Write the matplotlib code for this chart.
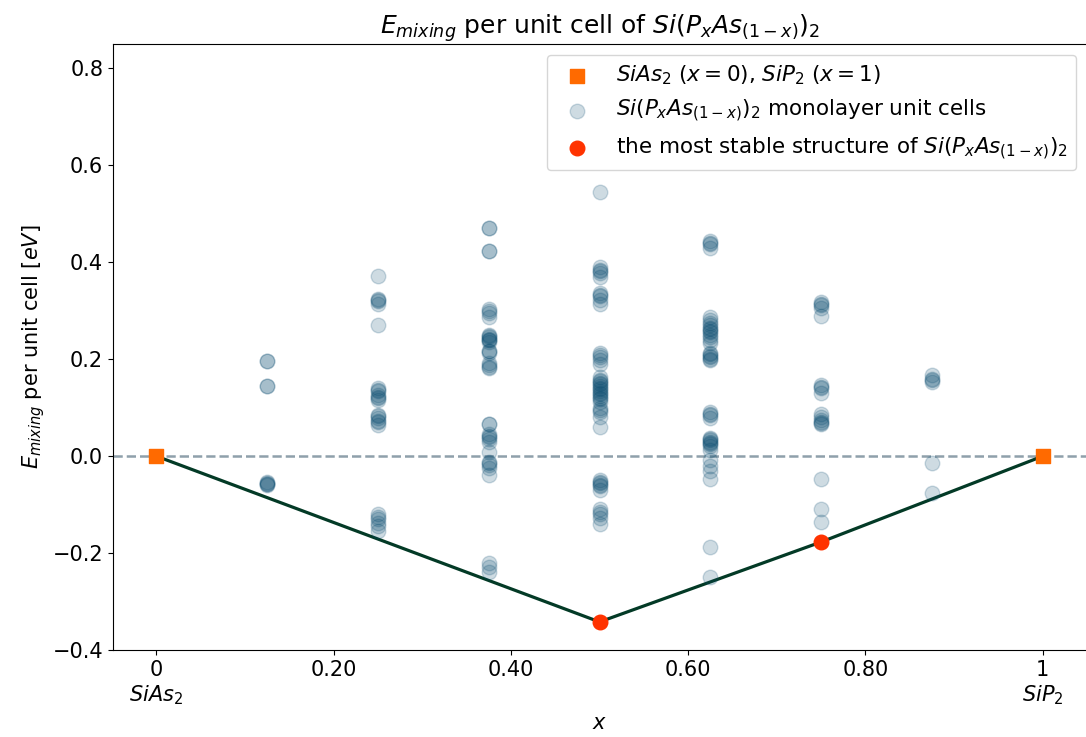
import matplotlib
matplotlib.use("Agg")
from matplotlib import pyplot as plt

# composizioni x e energie di mixing (eV)
x_0125 = [0.196, 0.196, 0.144, 0.144, -0.053, -0.055, -0.057, -0.058, -0.06]
x_025 = [0.371, 0.325, 0.322, 0.32, 0.315, 0.271, 0.14, 0.137, 0.135, 0.126,
         0.122, 0.12, 0.115, 0.085, 0.082, 0.078, 0.072, 0.07, 0.065,
         -0.12, -0.125, -0.13, -0.138, -0.145, -0.155]
x_0375 = [0.471, 0.471, 0.423, 0.423, 0.303, 0.3, 0.295, 0.287, 0.25, 0.248,
          0.246, 0.242, 0.24, 0.239, 0.235, 0.216, 0.216, 0.213, 0.192, 0.188,
          0.185, 0.181, 0.067, 0.067, 0.045, 0.042, 0.04, 0.035, 0.03, 0.009,
          -0.012, -0.015, -0.018, -0.025, -0.039, -0.221, -0.228, -0.239]
x_05 = [0.546, 0.39, 0.385, 0.382, 0.378, 0.37, 0.336, 0.332, 0.33, 0.322,
        0.315, 0.212, 0.208, 0.205, 0.198, 0.19, 0.163, 0.158, 0.155, 0.15,
        0.148, 0.145, 0.14, 0.138, 0.135, 0.13, 0.128, 0.125, 0.12, 0.118,
        0.112, 0.1, 0.095, 0.092, 0.08, 0.06, -0.05, -0.054, -0.056, -0.06,
        -0.062, -0.07, -0.11, -0.115, -0.12, -0.128, -0.14]
x_0625 = [0.445, 0.44, 0.438, 0.43, 0.287, 0.28, 0.275, 0.27, 0.265, 0.262,
          0.258, 0.256, 0.25, 0.245, 0.24, 0.233, 0.212, 0.21, 0.207, 0.205,
          0.2, 0.198, 0.091, 0.088, 0.085, 0.078, 0.037, 0.035, 0.033, 0.03,
          0.028, 0.025, 0.02, 0.012, -0.008, -0.02, -0.03, -0.048, -0.187,
          -0.249]
x_075 = [0.318, 0.315, 0.312, 0.305, 0.29, 0.146, 0.142, 0.14, 0.13, 0.088,
         0.08, 0.075, 0.07, 0.068, 0.066, -0.047, -0.108, -0.135]
x_0875 = [0.167, 0.16, 0.157, 0.153, -0.014, -0.076]

composizioni = [0.125, 0.25, 0.375, 0.5, 0.625, 0.75, 0.875]
energie = [x_0125, x_025, x_0375, x_05, x_0625, x_075, x_0875]

# strutture di riferimento e piu' stabili
x_puri = [0, 1]
e_puri = [0.0, 0.0]
x_stabili = [0.5, 0.75]
e_stabili = [-0.342, -0.177]
# inviluppo convesso
x_hull = [0, 0.5, 0.75, 1]
e_hull = [0.0, -0.342, -0.177, 0.0]

xtick_pos = [0, 0.2, 0.4, 0.6, 0.8, 1]
xtick_lab = ["0\n$SiAs_2$", "0.20", "0.40", "0.60", "0.80", "1\n$SiP_2$"]

fs = 15
fig = plt.figure(figsize=(10.86, 7.37), dpi=100)
ax = fig.add_axes([0.104, 0.118, 0.897, 0.822])

ax.axhline(0, color="#8fa0ab", linestyle="--", linewidth=1.8, zorder=1)
ax.plot(x_hull, e_hull, color="#033a26", linewidth=2.3, zorder=2)

ax.scatter(x_puri, e_puri, marker="s", s=110, color="#ff6a00", zorder=4,
           label="$SiAs_2$ $(x=0)$, $SiP_2$ $(x=1)$")
for _i, _x in enumerate(composizioni):
    ax.scatter([_x] * len(energie[_i]), energie[_i], s=110, color="#0a4c70",
               alpha=0.2, zorder=3,
               label="$Si(P_xAs_{(1-x)})_2$ monolayer unit cells" if _i == 0 else None)
ax.scatter(x_stabili, e_stabili, s=110, color="#ff3300", zorder=5,
           label="the most stable structure of $Si(P_xAs_{(1-x)})_2$")

ax.set_xlim(-0.049, 1.05)
ax.set_ylim(-0.4, 0.85)
ax.set_xticks(xtick_pos)
ax.set_xticklabels(xtick_lab, fontsize=fs)
ax.set_yticks([-0.4, -0.2, 0.0, 0.2, 0.4, 0.6, 0.8])
ax.tick_params(axis="y", labelsize=fs)
ax.set_xlabel("$x$", fontsize=fs)
ax.set_ylabel("$E_{mixing}$ per unit cell [$eV$]", fontsize=fs)
ax.set_title("$E_{mixing}$ per unit cell of $Si(P_xAs_{(1-x)})_2$", fontsize=18)
ax.legend(loc="upper right", fontsize=15.5)

fig.savefig("out.png", dpi=100)
